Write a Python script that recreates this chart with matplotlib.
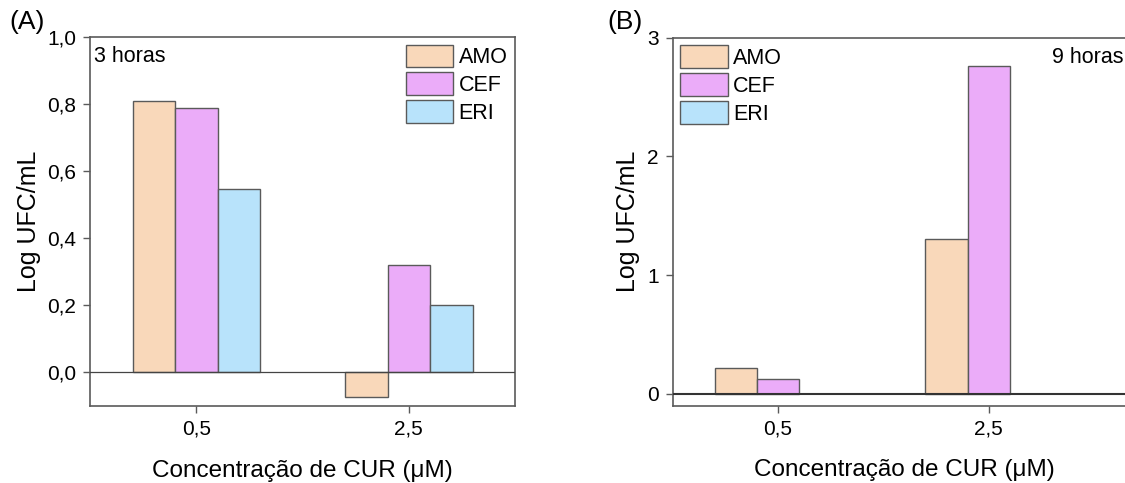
import numpy as np
from matplotlib import pyplot as plt
from matplotlib.ticker import FuncFormatter

plt.rcParams['font.family'] = ['Liberation Sans', 'DejaVu Sans']

# data
conc = ['0,5', '2,5']
series = ['AMO', 'CEF', 'ERI']
colors = ['#F9D8BA', '#EBACF9', '#B8E3FB']
vals_3h = {'AMO': [0.81, -0.072], 'CEF': [0.787, 0.321], 'ERI': [0.546, 0.202]}
vals_9h = {'AMO': [0.216, 1.302], 'CEF': [0.124, 2.76], 'ERI': [np.nan, np.nan]}

fig = plt.figure(figsize=(11.25, 4.83), dpi=100)
axA = fig.add_axes([0.08, 0.1594, 0.3778, 0.764])
axB = fig.add_axes([0.598, 0.16, 0.4118, 0.762])

x = np.arange(len(conc))
width = 0.2
edge = '#5a5a5a'


def comma(v, pos):
    return ('%.1f' % v).replace('.', ',')


def draw(ax, vals, legend_loc, zero_lw, zero_col, ypad):
    for i, s in enumerate(series):
        ax.bar(x + (i - 1) * width, vals[s], width, color=colors[i],
               edgecolor=edge, linewidth=1.0, label=s, zorder=2)
    ax.axhline(0, color=zero_col, linewidth=zero_lw, zorder=3)
    ax.set_xticks(x)
    ax.set_xticklabels(conc)
    ax.tick_params(direction='out', length=5, width=1, labelsize=15,
                   color=edge, pad=5)
    for sp in ax.spines.values():
        sp.set_color(edge)
        sp.set_linewidth(1.2)
    ax.set_ylabel('Log UFC/mL', fontsize=18, labelpad=ypad)
    ax.set_xlabel('Concentração de CUR (μM)', fontsize=17.5, labelpad=15)
    leg = ax.legend(loc=legend_loc, frameon=False, fontsize=15.5,
                    handlelength=2.2, handleheight=1.25, labelspacing=0.2,
                    handletextpad=0.25, borderaxespad=0.15, borderpad=0.2)
    for p in leg.get_patches():
        p.set_edgecolor(edge)


draw(axA, vals_3h, 'upper right', 0.9, '#444444', 4)
axA.set_xlim(-0.5, 1.5)
axA.set_ylim(-0.1, 1.0)
axA.set_yticks([0.0, 0.2, 0.4, 0.6, 0.8, 1.0])
axA.yaxis.set_major_formatter(FuncFormatter(comma))
axA.text(0.01, 0.975, '3 horas', transform=axA.transAxes, fontsize=15.5,
         va='top', ha='left')
fig.text(0.008, 0.955, '(A)', fontsize=19, va='center', ha='left')

draw(axB, vals_9h, 'upper left', 1.5, '#333333', 5)
axB.set_xlim(-0.5, 1.7)
axB.set_ylim(-0.1, 3.0)
axB.set_yticks([0, 1, 2, 3])
axB.text(0.818, 0.975, '9 horas', transform=axB.transAxes, fontsize=15.5,
         va='top', ha='left')
fig.text(0.54, 0.955, '(B)', fontsize=19, va='center', ha='left')

fig.savefig('out.png', dpi=100)
